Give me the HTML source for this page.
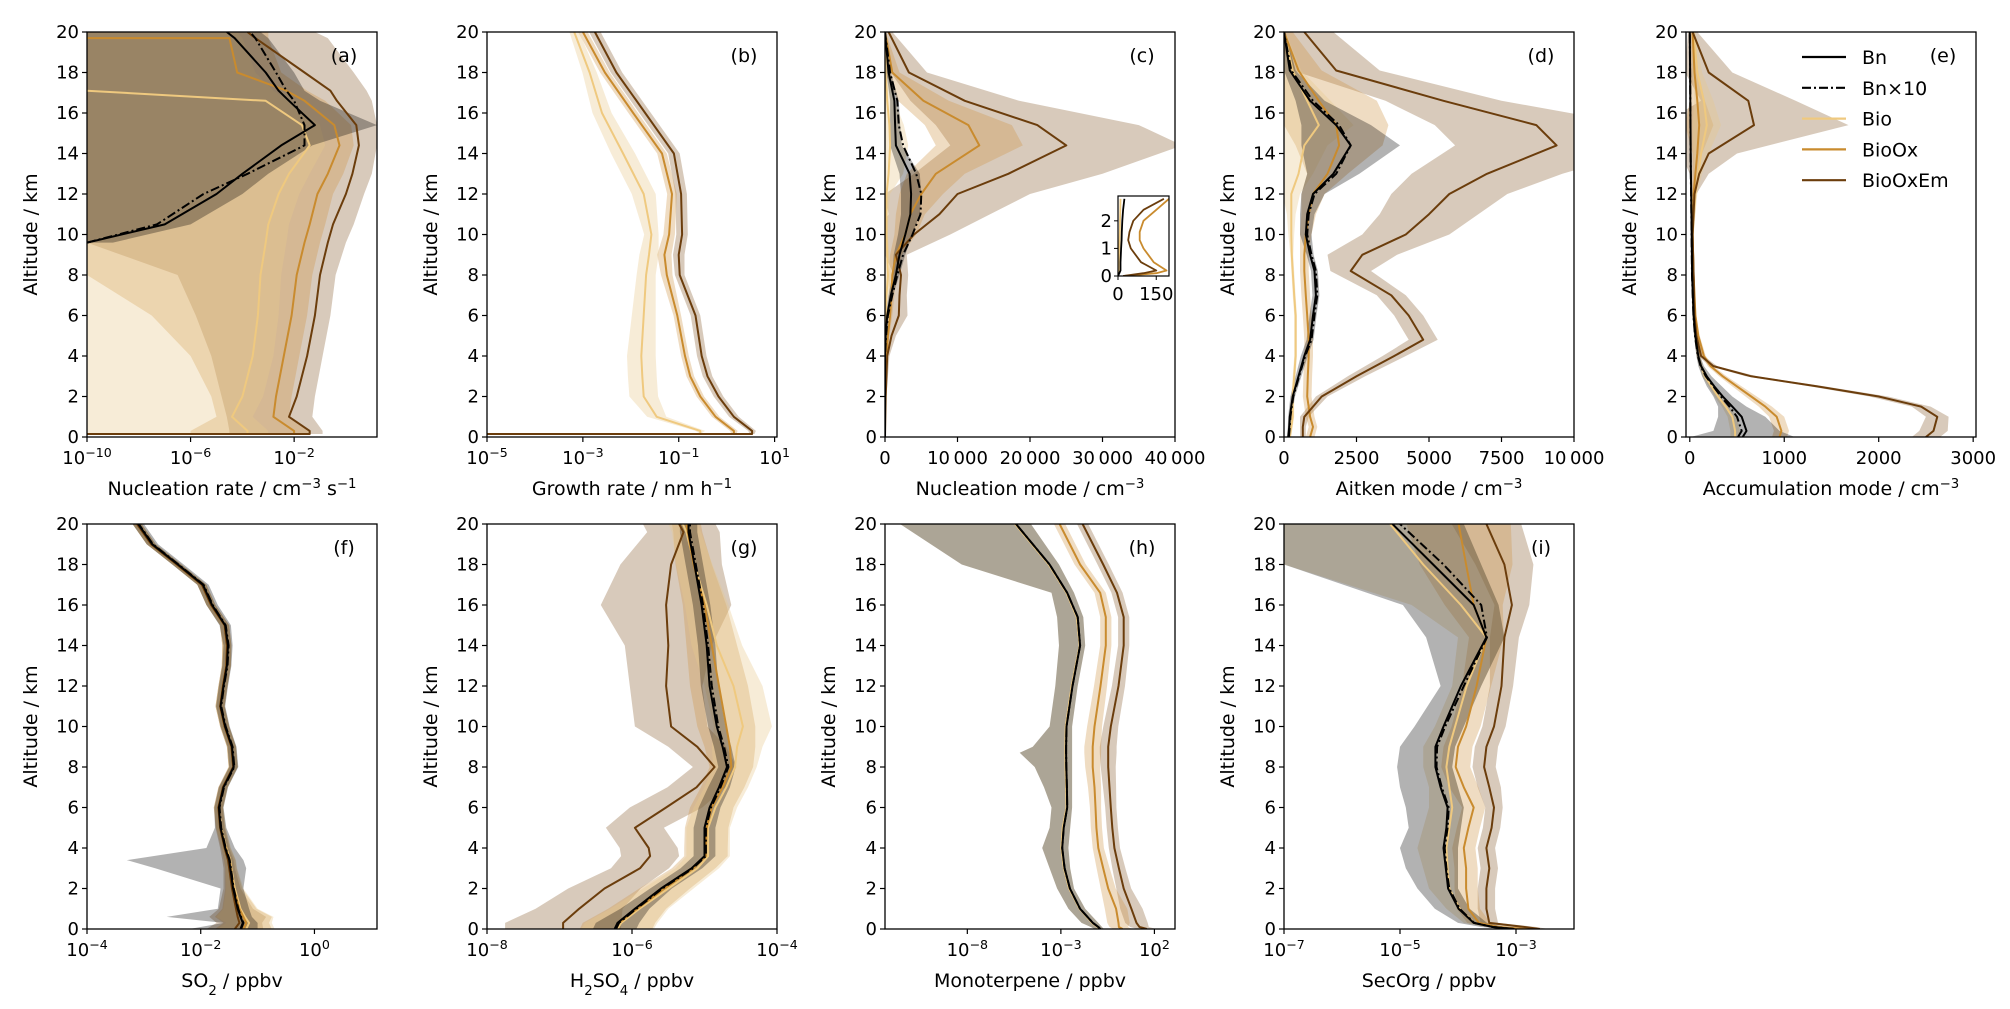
<!DOCTYPE html>
<html><head><meta charset="utf-8"><title>Vertical profiles</title>
<style>
html,body{margin:0;padding:0;background:#fff;}
svg{display:block;font-family:"DejaVu Sans","Liberation Sans",sans-serif;}
</style></head>
<body>
<svg id="fig" width="2010" height="1009" viewBox="0 0 2010 1009" xmlns="http://www.w3.org/2000/svg"></svg>
<script>
// ===== DATA (log panels store log10 values) =====
const aAlt = [0.15,0.15,0.3,1,2,4,6,8,9.6,10.5,12,13,14.4,15.4,16.6,17.1,17.1,18,19.7,19.7,20];
const aBioOxEm = [-10,-1.4,-1.4,-2.2,-1.9,-1.5,-1.2,-1.0,-0.7,-0.5,0,0.25,0.5,0.4,-0.35,-0.6,null,-1.6,-3.5,null,-3.8];
const aBioOx = [-10,-2.0,-2.0,-2.8,-2.7,-2.4,-2.1,-1.9,-1.6,-1.4,-1.1,-0.7,-0.25,-0.45,-1.6,-2.3,null,-4.2,-4.5,-10,null];
const aBio = [-10,-3.8,-3.8,-4.4,-4.0,-3.6,-3.4,-3.3,-3.1,-3.0,-2.6,-2.2,-1.4,-1.7,-3.1,null,-10,null,null,null,null];
const aBn = [null,null,null,null,null,null,null,null,-10,-7,-5,-4,-2.5,-1.2,-2.2,-2.6,null,-3.1,-4.3,null,-4.6];
const aBn10 = [null,null,null,null,null,null,null,null,-10,-7.3,-5.5,-3.8,-1.6,-1.6,-2.0,-2.3,null,-2.7,-3.5,null,-3.7];
const aBioOxEmLo = [null,-4.5,-4.5,-4.6,-4.8,-5.2,-5.8,-6.5,-10,-10,-10,-10,-10,-10,-10,-10,null,-10,-10,null,-10];
const aBioOxEmHi = [null,-0.9,-0.9,-1.3,-1.2,-0.9,-0.6,-0.4,0,0.3,0.7,1.0,1.2,1.2,1.0,0.8,null,0.3,-0.7,null,-1.2];
const aBioOxLo = [null,-6,-6,-5,-5.2,-6,-7.5,-10,-10,-10,-10,-10,-10,-10,-10,-10,null,-10,-10,null,-10];
const aBioOxHi = [null,-1.4,-1.4,-2.2,-2.1,-1.8,-1.5,-1.3,-1.0,-0.8,-0.5,-0.1,0.3,0.2,-0.8,-1.5,null,-2.5,-3.0,null,-3.0];
const aBioLo = [null,-10,-10,-10,-10,-10,-10,-10,-10,-10,-10,-10,-10,-10,-10,-10,null,-10,-10,null,-10];
const aBioHi = [null,-3.0,-3.0,-3.6,-3.2,-2.8,-2.6,-2.5,-2.3,-2.2,-1.8,-1.4,-0.8,-1.0,-2.2,-2.8,null,-3.5,-4.0,null,-4.2];
const aBnLo = [null,null,null,null,null,null,null,null,-10,-10,-10,-10,-10,-10,-10,-10,null,-10,-10,null,-10];
const aBnHi = [null,null,null,null,null,null,null,null,-9,-6,-4,-3,-1.3,1.2,-1.0,-1.6,null,-2.0,-3.0,null,-3.3];
const bAlt = [0.15,0.15,0.3,1,2,3,4,6,8,9,10,12,14,16,18,20];
const bBioOxEm = [-5,0.53,0.53,0.15,-0.17,-0.4,-0.52,-0.65,-0.98,-1.0,-0.93,-0.95,-1.1,-1.7,-2.3,-2.75];
const bBioOx = [-5,0.15,0.15,-0.23,-0.55,-0.76,-0.87,-1.03,-1.25,-1.3,-1.2,-1.14,-1.35,-1.95,-2.54,-3.0];
const bBio = [-5,-0.55,-0.55,-1.46,-1.73,-1.76,-1.78,-1.73,-1.68,-1.62,-1.57,-1.73,-2.16,-2.6,-2.86,-3.18];
const bBioOxEmSpread = [0,0.05,0.08,0.1,0.1,0.1,0.1,0.1,0.1,0.12,0.12,0.12,0.12,0.12,0.12,0.12];
const bBioOxSpread = [0,0.05,0.08,0.08,0.08,0.08,0.08,0.08,0.12,0.15,0.12,0.1,0.1,0.1,0.1,0.1];
const bBioSpread = [0,0,0.1,0.2,0.3,0.3,0.3,0.25,0.2,0.2,0.15,0.25,0.25,0.2,0.15,0.1];
const cAlt = [0,2,4,5,6,7,8,9,10,11,12,13,14.4,15.4,16.6,18,20];
const cBioOxEm = [0,100,300,900,1900,2000,2200,1500,4000,7500,10000,17000,25000,21000,11000,3300,500];
const cBioOx = [0,0,200,400,700,900,1000,1500,2800,3500,5000,7000,13000,11500,5300,1000,0];
const cBio = [0,0,0,50,100,200,400,300,200,200,200,500,700,600,300,100,0];
const cBn = [0,0,0,100,300,800,1500,2000,2800,3500,3600,3400,1500,1400,1300,500,0];
const cBn10 = [0,0,0,150,400,1000,1700,2500,3800,4900,5000,4300,2500,1900,1700,700,0];
const cBioOxEmSpread = [0,100,300,600,1200,1000,1000,1500,5000,7000,10000,13000,16000,14000,7500,2500,500];
const cBioOxSpread = [0,0,100,200,300,400,500,800,1500,2000,3000,4000,6000,6000,3500,1000,100];
const cBioSpread = [0,0,0,50,100,300,500,300,200,300,500,2000,2500,2000,1000,300,0];
const cBnSpread = [0,0,0,100,200,300,500,800,1000,1300,1400,1400,800,700,600,300,0];
const ciAlt = [0,0.1,0.2,0.5,1,1.3,1.6,2,2.4,2.8];
const ciBioOxEm = [20,100,150,90,50,40,45,60,100,180];
const ciBioOx = [20,150,190,140,100,85,85,100,150,200];
const ciBio = [0,2,3,4,5,6,7,8,9,10];
const ciBn = [0,5,10,10,12,14,15,17,20,25];
const dAlt = [0,0.5,1,2,3,4,4.8,6,7,8.2,9,10,11,12,13,14.4,15.4,16.6,18.1,20];
const dBioOxEm = [650,650,700,1300,2500,3800,4800,4300,3700,2300,2700,4200,5000,5700,7000,9400,8700,5500,1800,700];
const dBioOx = [900,1000,900,800,820,850,850,800,750,700,700,750,850,1000,1500,1900,1800,1200,500,0];
const dBio = [200,250,300,300,350,400,400,400,350,300,270,250,250,250,500,700,1200,800,300,0];
const dBn = [150,180,200,300,500,700,900,1000,1100,1050,900,750,800,1000,1700,2300,1800,900,200,0];
const dBn10 = [170,200,220,320,520,730,950,1050,1150,1100,950,800,850,1050,1800,2300,1900,1000,250,0];
const dBioOxEmSpread = [100,100,150,200,300,400,500,500,500,700,1200,1500,1700,2000,2600,3500,3500,2000,1500,1000];
const dBioOxSpread = [150,150,150,150,150,150,150,150,150,150,150,200,250,400,700,1500,1800,2000,800,300];
const dBioSpread = [50,50,50,50,50,50,50,50,50,50,50,100,150,300,500,800,1200,800,300,50];
const dBnSpread = [50,50,60,80,100,120,120,120,120,120,120,200,250,400,900,1700,1200,500,200,50];
const eAlt = [0,0.3,1,1.5,2,2.5,3,3.5,4,5,6,8,10,12,13,14,15.4,16.6,18,20];
const eBioOxEm = [2500,2580,2620,2450,2000,1350,650,250,120,70,50,40,30,50,100,200,680,620,200,30];
const eBioOx = [950,970,920,800,650,500,350,220,150,90,60,40,30,40,60,80,100,80,50,30];
const eBio = [480,480,450,380,300,230,160,120,90,60,40,30,30,60,90,120,180,150,80,40];
const eBn = [560,600,550,450,350,260,180,120,90,60,40,25,20,15,12,10,8,5,3,0];
const eBn10 = [510,550,500,420,330,250,170,115,85,55,38,24,19,14,11,9,7,5,3,0];
const eBioOxEmSpread = [150,150,120,100,100,80,60,40,30,20,15,10,10,20,100,300,1000,500,250,50];
const eBioOxSpread = [80,80,80,70,60,50,40,30,20,15,10,10,10,15,30,50,150,80,40,20];
const eBioSpread = [50,50,50,40,40,30,30,20,20,15,10,10,10,20,40,80,150,100,50,20];
const eBnSpread = [550,350,250,150,100,80,50,30,20,15,10,5,5,5,5,5,5,5,3,2];
const fAlt = [0,0.3,0.6,1,2,3,3.4,4,5,6,7,8,9,10,11,12,13,14,15,16,17,18,19,20];
const fBn = [-1.3,-1.26,-1.3,-1.35,-1.43,-1.48,-1.5,-1.57,-1.65,-1.68,-1.6,-1.42,-1.45,-1.57,-1.65,-1.6,-1.54,-1.52,-1.57,-1.8,-1.96,-2.4,-2.85,-3.1];
const fBn10 = [-1.29,-1.25,-1.29,-1.34,-1.42,-1.47,-1.49,-1.56,-1.64,-1.67,-1.59,-1.41,-1.44,-1.56,-1.64,-1.59,-1.53,-1.51,-1.56,-1.79,-1.95,-2.39,-2.84,-3.09];
const fBio = [-1.2,-1.15,-1.22,-1.3,-1.4,-1.46,-1.48,-1.55,-1.64,-1.68,-1.6,-1.43,-1.46,-1.58,-1.66,-1.61,-1.55,-1.54,-1.58,-1.82,-1.98,-2.42,-2.87,-3.12];
const fBioOx = [-1.25,-1.2,-1.25,-1.32,-1.42,-1.47,-1.49,-1.56,-1.65,-1.69,-1.61,-1.43,-1.46,-1.58,-1.66,-1.61,-1.55,-1.54,-1.58,-1.82,-1.98,-2.42,-2.87,-3.12];
const fBioOxEm = [-1.4,-1.32,-1.35,-1.38,-1.45,-1.5,-1.52,-1.58,-1.66,-1.69,-1.61,-1.43,-1.46,-1.58,-1.66,-1.61,-1.55,-1.54,-1.58,-1.82,-1.98,-2.42,-2.87,-3.12];
const fBnLo = [-2.2,-1.6,-2.6,-1.7,-1.65,-2.8,-3.3,-1.9,-1.75,-1.76,-1.68,-1.5,-1.53,-1.65,-1.73,-1.68,-1.62,-1.6,-1.67,-1.9,-2.06,-2.5,-2.95,-3.2];
const fBnHi = [-1.0,-1.0,-1.1,-1.15,-1.25,-1.2,-1.25,-1.4,-1.55,-1.6,-1.52,-1.34,-1.37,-1.49,-1.57,-1.52,-1.46,-1.44,-1.47,-1.7,-1.86,-2.3,-2.75,-3.0];
const fBioSpread = [0.5,0.4,0.5,0.3,0.15,0.1,0.1,0.08,0.08,0.08,0.08,0.08,0.08,0.08,0.08,0.08,0.08,0.08,0.08,0.08,0.08,0.08,0.08,0.08];
const gAlt = [0,0.3,1,2,3,3.6,4,5,6,7,8,9,10,12,14,16,18,19.6,20];
const gBioOxEm = [-6.95,-6.95,-6.73,-6.38,-5.89,-5.75,-5.77,-5.96,-5.53,-5.11,-4.86,-5.1,-5.46,-5.53,-5.5,-5.53,-5.46,-5.29,-5.35];
const gBn = [-6.24,-6.2,-5.96,-5.6,-5.18,-5.0,-5.0,-5.0,-4.93,-4.8,-4.69,-4.75,-4.83,-4.93,-4.97,-5.04,-5.14,-5.22,-5.22];
const gBn10 = [-6.22,-6.18,-5.94,-5.58,-5.16,-4.98,-4.98,-4.98,-4.91,-4.78,-4.67,-4.73,-4.81,-4.9,-4.95,-5.02,-5.12,-5.2,-5.2];
const gBio = [-6.2,-6.15,-5.9,-5.5,-5.1,-4.95,-4.95,-4.95,-4.85,-4.7,-4.58,-4.55,-4.47,-4.6,-4.83,-4.97,-5.14,-5.25,-5.3];
const gBioOx = [-6.22,-6.18,-5.93,-5.55,-5.15,-4.98,-4.98,-4.97,-4.9,-4.75,-4.63,-4.65,-4.7,-4.8,-4.9,-5.0,-5.15,-5.23,-5.25];
const gBioOxEmSpread = [0.8,0.8,0.6,0.5,0.4,0.4,0.4,0.4,0.5,0.4,0.3,0.4,0.5,0.5,0.6,0.9,0.7,0.5,0.5];
const gBioSpread = [0.5,0.5,0.4,0.35,0.3,0.3,0.3,0.3,0.3,0.3,0.3,0.35,0.4,0.4,0.35,0.3,0.25,0.2,0.2];
const gBnSpread = [0.3,0.3,0.2,0.15,0.15,0.15,0.15,0.15,0.15,0.15,0.12,0.12,0.12,0.12,0.12,0.12,0.12,0.12,0.12];
const hAlt = [0,0.1,0.3,1,2,3,4,5,6,7,8,8.7,9,10,12,14,15.4,16.6,18,20];
const hBn = [-0.9,-1.0,-1.29,-1.97,-2.52,-2.8,-2.93,-2.85,-2.66,-2.68,-2.71,-2.72,-2.72,-2.7,-2.38,-1.97,-2.1,-2.66,-3.6,-5.4];
const hBio = [-0.95,-1.05,-1.33,-2.0,-2.56,-2.84,-2.97,-2.9,-2.7,-2.72,-2.75,-2.76,-2.76,-2.74,-2.42,-2.0,-2.15,-2.7,-3.65,-5.45];
const hBioOx = [0.3,0.1,0.08,-0.05,-0.47,-0.74,-1.0,-1.1,-1.15,-1.2,-1.3,-1.3,-1.3,-1.2,-0.88,-0.6,-0.6,-0.9,-1.97,-3.07];
const hBioOxEm = [1.6,1.2,1.04,0.77,0.36,0.1,-0.14,-0.25,-0.33,-0.4,-0.47,-0.47,-0.47,-0.33,0.08,0.36,0.36,0.0,-0.74,-1.84];
const hBnLo = [-1.2,-1.4,-1.9,-2.6,-3.2,-3.6,-4.0,-3.6,-3.5,-3.9,-4.4,-5.2,-4.5,-3.6,-3.3,-3.1,-3.2,-3.5,-8.3,-11.6];
const hBnHi = [-0.7,-0.8,-1.0,-1.7,-2.3,-2.5,-2.6,-2.5,-2.4,-2.4,-2.4,-2.4,-2.4,-2.4,-2.1,-1.7,-1.8,-2.3,-3.1,-4.6];
const hBioOxSpread = [0.5,0.5,0.6,0.6,0.4,0.35,0.3,0.3,0.3,0.35,0.4,0.45,0.45,0.4,0.35,0.3,0.3,0.3,0.3,0.3];
const iAlt = [0,0.1,0.3,1,2,3,4,5,6,7,8,9,10,12,14.4,16,18,20];
const iBn = [-3.03,-3.4,-3.73,-3.99,-4.17,-4.21,-4.25,-4.2,-4.18,-4.3,-4.39,-4.39,-4.25,-3.95,-3.51,-3.73,-4.43,-5.13];
const iBn10 = [-3.03,-3.4,-3.72,-3.97,-4.15,-4.2,-4.23,-4.18,-4.16,-4.28,-4.37,-4.36,-4.22,-3.9,-3.5,-3.6,-4.25,-5.0];
const iBio = [-3.03,-3.4,-3.72,-3.97,-4.15,-4.18,-4.2,-4.15,-4.1,-4.15,-4.2,-4.15,-4.05,-3.85,-3.51,-3.95,-4.6,-5.17];
const iBioOx = [-2.8,-3.3,-3.64,-3.82,-3.86,-3.86,-3.9,-3.82,-3.73,-3.9,-4.04,-4.0,-3.86,-3.68,-3.51,-3.73,-3.86,-3.99];
const iBioOxEm = [-2.59,-2.85,-3.46,-3.51,-3.51,-3.46,-3.51,-3.42,-3.38,-3.46,-3.55,-3.51,-3.38,-3.25,-3.2,-3.07,-3.2,-3.51];
const iBnLo = [-3.2,-3.6,-4.0,-4.4,-4.7,-4.9,-5.0,-4.85,-4.9,-5.0,-5.05,-5.0,-4.75,-4.3,-4.55,-4.95,-7,-7];
const iBnHi = [-2.9,-3.2,-3.5,-3.8,-4.0,-4.0,-4.0,-3.95,-3.9,-4.0,-4.1,-4.05,-3.9,-3.6,-3.2,-3.3,-3.6,-3.9];
const iBioLo = [-3.15,-3.5,-3.9,-4.2,-4.5,-4.6,-4.7,-4.6,-4.5,-4.5,-4.6,-4.6,-4.4,-4.1,-4.0,-4.8,-7,-7];
const iBioOxSpread = [0.15,0.2,0.2,0.2,0.2,0.2,0.2,0.2,0.2,0.25,0.25,0.25,0.25,0.25,0.3,0.5,0.8,0.9];
const iBioOxEmSpread = [0.15,0.2,0.15,0.15,0.15,0.15,0.15,0.15,0.15,0.2,0.2,0.2,0.2,0.2,0.25,0.3,0.5,0.6];
const altTicks = [0,2,4,6,8,10,12,14,16,18,20];

// ===== STYLE =====
const COL = {Bn:'#000000', Bn10:'#000000', Bio:'#efc97f', BioOx:'#c98b2e', BioOxEm:'#6b3d0c'};
const FILL = {Bn:'rgba(0,0,0,0.3)', Bn10:'rgba(0,0,0,0.3)', Bio:'rgba(232,200,140,0.35)', BioOx:'rgba(205,150,70,0.33)', BioOxEm:'rgba(125,80,30,0.3)'};
const NS = 'http://www.w3.org/2000/svg';
const svg = document.getElementById('fig');
function mk(tag, attrs, parent){const e=document.createElementNS(NS,tag);for(const k in attrs)e.setAttribute(k,attrs[k]);(parent||svg).appendChild(e);return e;}

const TOP=32, BOT=524, H=405, W=290, TF=18;
const panels = [
 {id:'a',left:87,top:TOP,log:true,xMin:-10,xMax:1.2,xTicks:[-10,-6,-2],label:[['Nucleation rate / cm',''],['−3','sup'],[' s',''],['−1','sup']],alt:aAlt,
  series:{BioOxEm:{v:aBioOxEm,lo:aBioOxEmLo,hi:aBioOxEmHi},BioOx:{v:aBioOx,lo:aBioOxLo,hi:aBioOxHi},Bio:{v:aBio,lo:aBioLo,hi:aBioHi},Bn:{v:aBn,lo:aBnLo,hi:aBnHi},Bn10:{v:aBn10}}},
 {id:'b',left:487,top:TOP,log:true,xMin:-5,xMax:1.05,xTicks:[-5,-3,-1,1],label:[['Growth rate / nm h',''],['−1','sup']],alt:bAlt,
  series:{BioOxEm:{v:bBioOxEm,s:bBioOxEmSpread},BioOx:{v:bBioOx,s:bBioOxSpread},Bio:{v:bBio,s:bBioSpread}}},
 {id:'c',left:885,top:TOP,log:false,xMin:0,xMax:40000,xTicks:[0,10000,20000,30000,40000],label:[['Nucleation mode / cm',''],['−3','sup']],alt:cAlt,
  series:{BioOxEm:{v:cBioOxEm,s:cBioOxEmSpread},BioOx:{v:cBioOx,s:cBioOxSpread},Bio:{v:cBio,s:cBioSpread},Bn:{v:cBn,s:cBnSpread},Bn10:{v:cBn10}}},
 {id:'d',left:1284,top:TOP,log:false,xMin:0,xMax:10000,xTicks:[0,2500,5000,7500,10000],label:[['Aitken mode / cm',''],['−3','sup']],alt:dAlt,
  series:{BioOxEm:{v:dBioOxEm,s:dBioOxEmSpread},BioOx:{v:dBioOx,s:dBioOxSpread},Bio:{v:dBio,s:dBioSpread},Bn:{v:dBn,s:dBnSpread},Bn10:{v:dBn10}}},
 {id:'e',left:1686,top:TOP,log:false,xMin:-40,xMax:3030,xTicks:[0,1000,2000,3000],label:[['Accumulation mode / cm',''],['−3','sup']],alt:eAlt,
  series:{BioOxEm:{v:eBioOxEm,s:eBioOxEmSpread},BioOx:{v:eBioOx,s:eBioOxSpread},Bio:{v:eBio,s:eBioSpread},Bn:{v:eBn,s:eBnSpread},Bn10:{v:eBn10}}},
 {id:'f',left:87,top:BOT,log:true,xMin:-4,xMax:1.1,xTicks:[-4,-2,0],label:[['SO',''],['2','sub'],[' / ppbv','']],alt:fAlt,
  series:{BioOxEm:{v:fBioOxEm,s:fBioSpread},BioOx:{v:fBioOx,s:fBioSpread},Bio:{v:fBio,s:fBioSpread},Bn:{v:fBn,lo:fBnLo,hi:fBnHi},Bn10:{v:fBn10}}},
 {id:'g',left:487,top:BOT,log:true,xMin:-8,xMax:-4,xTicks:[-8,-6,-4],label:[['H',''],['2','sub'],['SO',''],['4','sub'],[' / ppbv','']],alt:gAlt,
  series:{BioOxEm:{v:gBioOxEm,s:gBioOxEmSpread},BioOx:{v:gBioOx,s:gBioSpread},Bio:{v:gBio,s:gBioSpread},Bn:{v:gBn,s:gBnSpread},Bn10:{v:gBn10}}},
 {id:'h',left:885,top:BOT,log:true,xMin:-12.4,xMax:3.1,xTicks:[-8,-3,2],label:[['Monoterpene / ppbv','']],alt:hAlt,
  series:{BioOxEm:{v:hBioOxEm,s:hBioOxSpread},BioOx:{v:hBioOx,s:hBioOxSpread},Bio:{v:hBio,lo:hBnLo,hi:hBnHi},Bn:{v:hBn,lo:hBnLo,hi:hBnHi},Bn10:{v:hBn}}},
 {id:'i',left:1284,top:BOT,log:true,xMin:-7,xMax:-2,xTicks:[-7,-5,-3],label:[['SecOrg / ppbv','']],alt:iAlt,
  series:{BioOxEm:{v:iBioOxEm,s:iBioOxEmSpread},BioOx:{v:iBioOx,s:iBioOxSpread},Bio:{v:iBio,lo:iBioLo,hi:iBnHi},Bn:{v:iBn,lo:iBnLo,hi:iBnHi},Bn10:{v:iBn10}}}
];

function richText(parent, x, y, pieces, size, anchor){
  const t = mk('text',{x:x,y:y,'font-size':size,'text-anchor':anchor||'middle',fill:'#000'},parent);
  pieces.forEach(p=>{
    const s = mk('tspan',{},t);
    s.textContent = p[0];
    if(p[1]==='sup'){s.setAttribute('font-size',size*0.7);s.setAttribute('baseline-shift','super');}
    if(p[1]==='sub'){s.setAttribute('font-size',size*0.7);s.setAttribute('baseline-shift','sub');}
  });
  return t;
}
function pathFrom(xs, ys){let d='';for(let i=0;i<xs.length;i++){d+=(i===0?'M':'L')+xs[i].toFixed(1)+','+ys[i].toFixed(1);}return d;}

function drawSeriesSet(g, alt, series, X, Y, lw, clipId){
  const cg = mk('g',{'clip-path':'url(#'+clipId+')'},g);
  
  
  ['BioOxEm','BioOx','Bio','Bn'].forEach(k=>{
    const s = series[k]; if(!s) return;
    if(!s.lo && s.s===undefined) return;
    const top=[], bot=[];
    for(let i=0;i<alt.length;i++){
      let lo, hi;
      if(s.lo){lo=s.lo[i];hi=s.hi[i];}
      else {if(s.v[i]===null)continue; const sp=Array.isArray(s.s)?s.s[i]:s.s; lo=s.v[i]-sp; hi=s.v[i]+sp;}
      if(lo===null||hi===null||lo===undefined) continue;
      top.push([X(hi),Y(alt[i])]); bot.push([X(lo),Y(alt[i])]);
    }
    if(top.length<2) return;
    const pts = top.concat(bot.reverse()).map(p=>p[0].toFixed(1)+','+p[1].toFixed(1)).join(' ');
    const poly = mk('polygon',{points:pts,fill:FILL[k],stroke:'none'},cg);
    
    
  });
  ['Bio','BioOx','BioOxEm','Bn','Bn10'].forEach(k=>{
    const s = series[k]; if(!s) return;
    const xs=[], ys=[];
    for(let i=0;i<alt.length;i++){ if(s.v[i]===null) continue; xs.push(X(s.v[i])); ys.push(Y(alt[i])); }
    const p = mk('path',{d:pathFrom(xs,ys),fill:'none',stroke:COL[k],'stroke-width':lw,'stroke-linejoin':'round'},cg);
    if(k==='Bn10') p.setAttribute('stroke-dasharray','9,3,2,3');
    
    
  });
}

const defs = mk('defs',{});
panels.forEach(P=>{
  const L=P.left, T=P.top;
  const X = v => L + (v-P.xMin)/(P.xMax-P.xMin)*W;
  const Y = a => T + H - a/20*H;
  const g = mk('g',{});
  
  
  const cp = mk('clipPath',{id:'clip-'+P.id},defs);
  mk('rect',{x:L,y:T,width:W,height:H},cp);
  drawSeriesSet(g, P.alt, P.series, X, Y, 2, 'clip-'+P.id);
  const frame = mk('rect',{x:L,y:T,width:W,height:H,fill:'none',stroke:'#000','stroke-width':1.3},g);
  
  
  altTicks.forEach(a=>{
    const tk = mk('line',{x1:L-5,x2:L,y1:Y(a),y2:Y(a),stroke:'#000','stroke-width':1.2},g);
    
    
    const tl = mk('text',{x:L-8,y:Y(a)+6,'font-size':TF,'text-anchor':'end'},g);
    tl.textContent = a;
    
    
  });
  P.xTicks.forEach(v=>{
    const tk = mk('line',{x1:X(v),x2:X(v),y1:T+H,y2:T+H+5,stroke:'#000','stroke-width':1.2},g);
    
    
    let tl;
    if(P.log){
      tl = richText(g, X(v), T+H+27, [['10',''],[(v<0?'−':'')+Math.abs(v),'sup']], TF);
    } else {
      tl = mk('text',{x:X(v),y:T+H+27,'font-size':TF,'text-anchor':'middle'},g);
      tl.textContent = v>=10000 ? String(Math.floor(v/1000))+'\u2009'+String(v%1000).padStart(3,'0') : String(v);
    }
    
    
  });
  const xl = richText(g, L+W/2, T+H+58, P.label, 19);
  
  
  const yl = mk('text',{x:0,y:0,'font-size':19,'text-anchor':'middle',transform:'translate('+(L-50)+','+(T+H/2)+') rotate(-90)'},g);
  yl.textContent = 'Altitude / km';
  
  
  const pl = mk('text',{x:L+257,y:T+30,'font-size':19,'text-anchor':'middle'},g);
  pl.textContent = '('+P.id+')';
  
  
});

(function(){
  const L=1118, T=196, IW=51, IH=80;
  const X = v => L + v/200*IW;
  const Y = a => T + IH - a/2.9*IH;
  const g = mk('g',{});
  
  
  const bg = mk('rect',{x:L,y:T,width:IW,height:IH,fill:'#fff'},g);
  
  
  const cp = mk('clipPath',{id:'clip-inset'},defs);
  mk('rect',{x:L,y:T,width:IW,height:IH},cp);
  drawSeriesSet(g, ciAlt, {Bio:{v:ciBio},BioOx:{v:ciBioOx},BioOxEm:{v:ciBioOxEm},Bn:{v:ciBn}}, X, Y, 1.8, 'clip-inset');
  const fr = mk('rect',{x:L,y:T,width:IW,height:IH,fill:'none',stroke:'#000','stroke-width':1.2},g);
  
  
  [0,1,2].forEach(a=>{
    mk('line',{x1:L-4,x2:L,y1:Y(a),y2:Y(a),stroke:'#000'},g);
    const t = mk('text',{x:L-6,y:Y(a)+6,'font-size':TF,'text-anchor':'end'},g);
    t.textContent = a;
    
    
  });
  [0,150].forEach(v=>{
    mk('line',{x1:X(v),x2:X(v),y1:T+IH,y2:T+IH+4,stroke:'#000'},g);
    const t = mk('text',{x:X(v),y:T+IH+24,'font-size':TF,'text-anchor':'middle'},g);
    t.textContent = v;
    
    
  });
})();

const legendKeys = ['Bn','Bn10','Bio','BioOx','BioOxEm'];
const legendText = ['Bn','Bn×10','Bio','BioOx','BioOxEm'];
(function(){
  const lg = mk('g',{});
  
  
  legendKeys.forEach((k,i)=>{
    const y = 57 + i*30.8;
    const e = mk('g',{},lg);
    
    
    const ln = mk('line',{x1:1802,x2:1846,y1:y,y2:y,stroke:COL[k],'stroke-width':2.2},e);
    if(k==='Bn10') ln.setAttribute('stroke-dasharray','9,3,2,3');
    const t = mk('text',{x:1862,y:y+7,'font-size':19},e);
    t.textContent = legendText[i];
  });
})();
</script>
</body></html>
